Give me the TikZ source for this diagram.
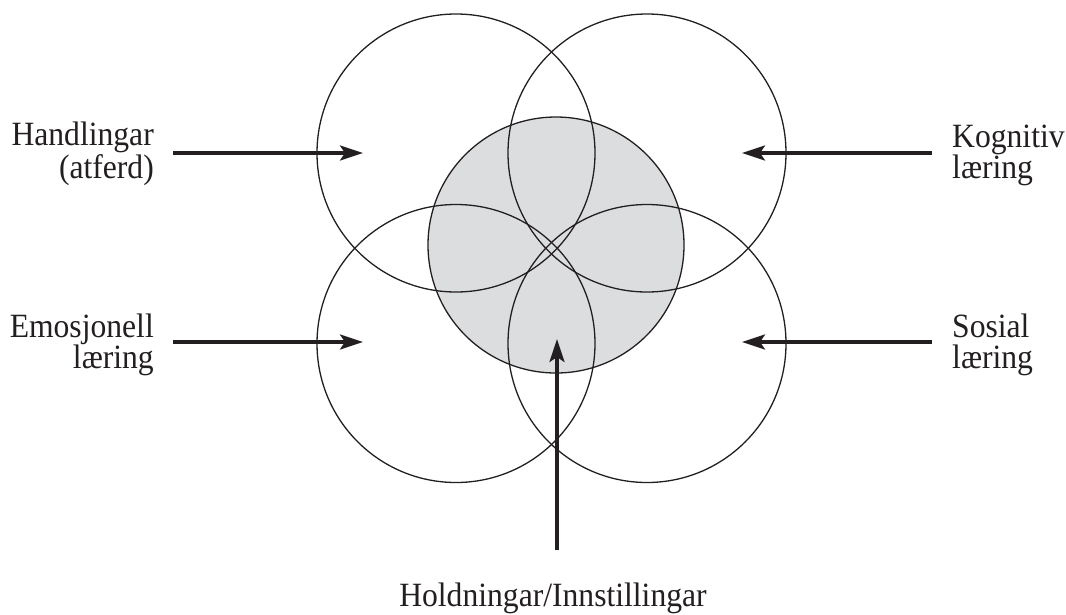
\documentclass[tikz,border=0pt]{standalone}
\usepackage{fontspec}
\setmainfont[FakeStretch=0.93]{Liberation Serif}
\usetikzlibrary{arrows.meta}
\definecolor{coregrey}{RGB}{220,221,223}
\definecolor{ink}{RGB}{35,31,32}
\begin{document}
\begin{tikzpicture}[x=1pt,y=-1pt,
  ring/.style={circle, draw=ink, line width=1.3pt, inner sep=0pt, minimum size=278pt},
  core/.style={circle, draw=ink, fill=coregrey, line width=1.3pt, inner sep=0pt, minimum size=256pt},
  lbl/.style={inner sep=0pt, font=\fontsize{34}{31}\selectfont, text=ink},
  pointer/.style={draw=ink, line width=3.2pt, -{Stealth[length=23pt,width=15pt,inset=5pt]}}]
\useasboundingbox (0,0) rectangle (1066,614);
\node[core] (core) at (556,245) {};
\node[ring] (tl) at (456,153) {};
\node[ring] (tr) at (647,153) {};
\node[ring] (bl) at (456,343.5) {};
\node[ring] (br) at (647,343.5) {};
% labels (base anchor = baseline of the last line)
\node[lbl, align=right, anchor=base east] (hand) at (154,178) {Handlingar\\(atferd)};
\node[lbl, align=left, anchor=base west] (kog) at (952,178) {Kognitiv\\læring};
\node[lbl, align=right, anchor=base east] (emo) at (154,368) {Emosjonell\\læring};
\node[lbl, align=left, anchor=base west] (sos) at (952,368) {Sosial\\læring};
\node[lbl, anchor=base] (hold) at (553,606) {Holdningar/Innstillingar};
% arrow endpoints
\coordinate (hs) at (173,153); \coordinate (ht) at (363,153);
\coordinate (ks) at (932,153); \coordinate (kt) at (742,153);
\coordinate (es) at (173,342); \coordinate (et) at (363,342);
\coordinate (ss) at (932,342); \coordinate (st) at (742,342);
\coordinate (vs) at (557,550); \coordinate (vt) at (557,339);
\draw[pointer] (hs) -- (ht);
\draw[pointer] (ks) -- (kt);
\draw[pointer] (es) -- (et);
\draw[pointer] (ss) -- (st);
\draw[pointer] (vs) -- (vt);
\end{tikzpicture}
\end{document}
